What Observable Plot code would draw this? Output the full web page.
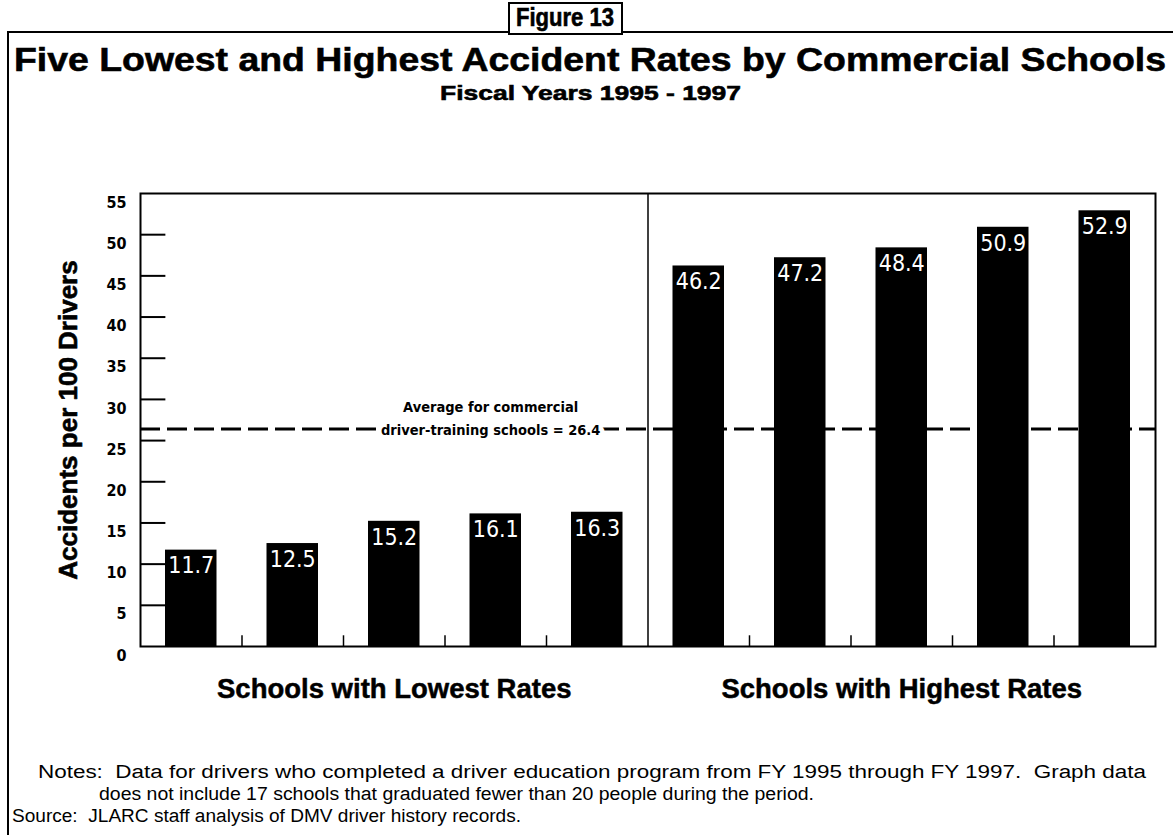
<!DOCTYPE html>
<html>
<head>
<meta charset="utf-8">
<script src="https://cdn.jsdelivr.net/npm/d3@7"></script>
<script src="https://cdn.jsdelivr.net/npm/@observablehq/plot@0.6"></script>
<style>
  html, body { margin: 0; padding: 0; background: #fff; }
  #page { position: relative; width: 1173px; height: 835px; overflow: hidden; background: #fff;
          font-family: "Liberation Sans", Arial, sans-serif; color: #000; }
  .abs { position: absolute; white-space: nowrap; line-height: 1; z-index: 2; }
  .fit { display: inline-block; transform-origin: left center; }
  .heavy { -webkit-text-stroke: 0.6px #000; }
  #chart { position: absolute; left: 0; top: 150px; z-index: 1; }
</style>
</head>
<body>
<div id="page">
  <div id="chart"></div>
  <div class="abs" style="left:8px; top:31px; width:502px; height:0; border-top:2px solid #000;"></div>
  <div class="abs" style="left:620px; top:31px; width:560px; height:0; border-top:2px solid #000;"></div>
  <div class="abs" style="left:7px; top:31px; width:0; height:810px; border-left:2px solid #000;"></div>
  <div class="abs" style="left:508px; top:2px; width:111px; height:29px; border:2px solid #000; background:#fff;"></div>
  <div class="abs heavy" id="figText" style="font-weight:bold; font-size:25px;"><span class="fit">Figure 13</span></div>
  <div class="abs heavy" id="title" style="font-weight:bold; font-size:34px;"><span class="fit">Five Lowest and Highest Accident Rates by Commercial Schools</span></div>
  <div class="abs heavy" id="subtitle" style="font-weight:bold; font-size:21px;"><span class="fit">Fiscal Years 1995 - 1997</span></div>
  <div class="abs" id="note1" style="font-size:18px;"><span class="fit">Notes:&nbsp; Data for drivers who completed a driver education program from FY 1995 through FY 1997.&nbsp; Graph data</span></div>
  <div class="abs" id="note2" style="font-size:18px;"><span class="fit">does not include 17 schools that graduated fewer than 20 people during the period.</span></div>
  <div class="abs" id="note3" style="font-size:18px;"><span class="fit">Source:&nbsp; JLARC staff analysis of DMV driver history records.</span></div>
</div>
<script>
// ---- data ----
const schoolGroups = ["Schools with Lowest Rates", "Schools with Highest Rates"];
const lowestRates = [11.7, 12.5, 15.2, 16.1, 16.3];
const highestRates = [46.2, 47.2, 48.4, 50.9, 52.9];
const averageRate = 26.4;
const averageLabel = ["Average for commercial", "driver-training schools = 26.4"];
const yTicks = [0, 5, 10, 15, 20, 25, 30, 35, 40, 45, 50, 55];
const yLabel = "Accidents per 100 Drivers";

// slots: each group has 5 school slots; slot index = group*5 + rank
const rows = [
  ...lowestRates.map((v, i) => ({group: 0, slot: i, value: v})),
  ...highestRates.map((v, i) => ({group: 1, slot: 5 + i, value: v}))
];
const slotBoundaries = d3.range(1, 10).filter(d => d !== 5);
const groupDivider = [5];
const groupRows = schoolGroups.map((g, i) => ({label: g, center: i * 5 + 2.5}));
const innerTicks = yTicks.filter(t => t > 0 && t < 55);
const FONT = "'Liberation Sans', Arial, sans-serif";
const NARROW = "'Liberation Sans Narrow', 'DejaVu Sans Condensed', 'Liberation Sans', Arial, sans-serif";

const chart = Plot.plot({
  width: 1173,
  height: 570,
  marginLeft: 140,
  marginRight: 18,
  marginTop: 43,
  marginBottom: 74,
  style: {background: "transparent", overflow: "visible", fontFamily: FONT},
  x: {domain: [0, 10], axis: null},
  y: {domain: [0, 55], axis: null},
  marks: [
    Plot.rectY(rows, {x: "slot", interval: 1, y: "value", fill: "#000", insetLeft: 25, insetRight: 25}),
    Plot.ruleY([averageRate], {stroke: "#000", strokeWidth: 3, strokeDasharray: "20,7"}),
    Plot.text([averageLabel[0]], {x: 3.45, y: averageRate, dy: -22, text: d => d, fontSize: 14.5, fontWeight: "bold",
      fontFamily: NARROW, fill: "#000"}),
    Plot.text([averageLabel[1]], {x: 3.45, y: averageRate, dy: 1, text: d => d, fontSize: 14.5, fontWeight: "bold",
      fontFamily: NARROW, fill: "#000", stroke: "#fff", strokeWidth: 9}),
    Plot.text(rows, {x: d => d.slot + 0.5, y: "value", text: d => d.value.toFixed(1), fill: "#fff",
      lineAnchor: "top", dy: 7, fontSize: 23, fontFamily: NARROW}),
    Plot.ruleX(slotBoundaries, {x: d => d, y1: 0, y2: 1.3, stroke: "#000", strokeWidth: 1.5}),
    Plot.ruleX(groupDivider, {x: d => d, stroke: "#000", strokeWidth: 1.5}),
    Plot.ruleY(innerTicks, {y: d => d, x1: 0, x2: 0.25, stroke: "#000", strokeWidth: 2}),
    Plot.frame({stroke: "#000", strokeWidth: 2}),
    Plot.axisY(yTicks, {anchor: "left", tickSize: 0, tickPadding: 14, dy: 9, fontSize: 16, fontWeight: "bold",
      fontFamily: NARROW, label: null}),
    Plot.text([yLabel], {frameAnchor: "left", dx: -72, rotate: -90, textAnchor: "middle", text: d => d,
      fontSize: 26, fontWeight: "bold", fill: "#000", stroke: "#000", strokeWidth: 0.6}),
    Plot.text(groupRows, {x: "center", y: 0, dy: 43, text: "label", fontSize: 27.5, fontWeight: "bold", fill: "#000",
      stroke: "#000", strokeWidth: 0.5})
  ]
});
document.getElementById("chart").appendChild(chart);

// fit header/footer text to the reference's measured extents
function place(id, left, right, cy) {
  const el = document.getElementById(id);
  const span = el.querySelector(".fit");
  const w = span.getBoundingClientRect().width;
  const h = span.getBoundingClientRect().height;
  span.style.transform = `scaleX(${(right - left) / w})`;
  el.style.left = left + "px";
  el.style.top = (cy - h / 2) + "px";
}
place("figText", 516, 614, 17);
place("title", 14, 1166, 59);
place("subtitle", 440, 741, 92);
place("note1", 38, 1146, 772);
place("note2", 99, 814, 794);
place("note3", 12, 521, 816);
</script>
</body>
</html>
